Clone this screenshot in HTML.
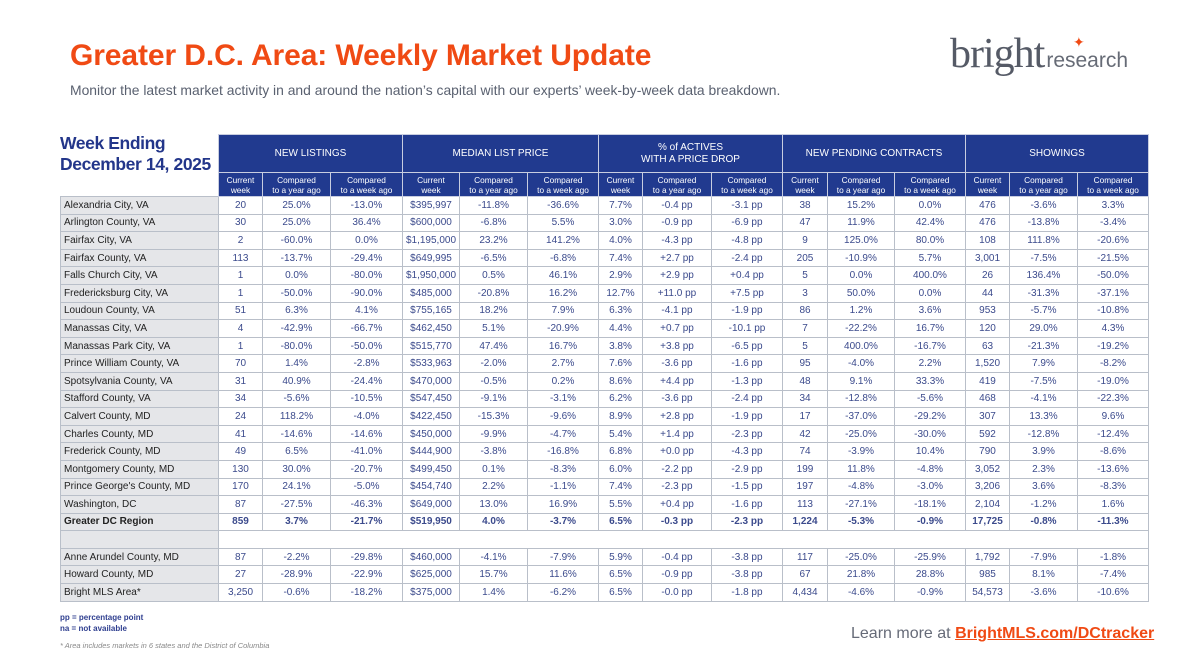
<!DOCTYPE html>
<html><head><meta charset="utf-8">
<style>
*{margin:0;padding:0;box-sizing:border-box}
body{width:1200px;height:672px;background:#fff;font-family:"Liberation Sans",sans-serif;position:relative;overflow:hidden}
.title{position:absolute;left:70px;top:39px;font-size:30px;font-weight:bold;color:#f04a14;letter-spacing:-0.1px;white-space:nowrap}
.sub{position:absolute;left:70px;top:82px;font-size:13.9px;color:#5a6170;white-space:nowrap}
.logo{position:absolute;left:950px;top:30px;white-space:nowrap;color:#555a66}
.logo .b{font-family:"Liberation Serif",serif;font-size:42px;letter-spacing:-1px}
.logo .r{font-size:21px;margin-left:2px;color:#666b76}
.logo .star{position:absolute;left:123px;top:4px;color:#f04a14;font-size:14px}
.we{position:absolute;left:60px;top:133px;font-size:17.5px;font-weight:bold;color:#23368a;line-height:21px;z-index:5;letter-spacing:-0.4px}
table{position:absolute;left:60px;top:134px;border-collapse:collapse;table-layout:fixed}
td{border:1px solid #b9bfc9;font-size:10px;color:#3b4a8c;text-align:center;height:17.6px;padding:0;white-space:nowrap;overflow:hidden}
td.l{background:#e5e6e9;color:#222;text-align:left;padding-left:3px}
tr.b td{font-weight:bold}
tr.b td.l{color:#222}
th{background:#213a8f;color:#fff;font-weight:normal;border:1px solid #c8cde0;font-size:10px;padding:0;line-height:12px}
th.g{height:38px}
th.s{height:24px;font-size:8.3px;line-height:10px}
td.e{border:none;background:transparent}
.foot1{position:absolute;left:60px;top:612px;font-size:8px;font-weight:bold;color:#2e3e8f;line-height:11px}
.foot2{position:absolute;left:60px;top:641px;font-size:7.5px;font-style:italic;color:#888}
.learn{position:absolute;left:851px;top:625px;font-size:16px;color:#666b78;white-space:nowrap}
.learn b{color:#f04a14;text-decoration:underline}
</style></head><body>
<div class="title">Greater D.C. Area: Weekly Market Update</div>
<div class="sub">Monitor the latest market activity in and around the nation’s capital with our experts’ week-by-week data breakdown.</div>
<div class="logo"><span class="b">bright</span><span class="r">research</span><span class="star">✦</span></div>
<table>
<colgroup><col style="width:158px"><col style="width:44px"><col style="width:68px"><col style="width:72px"><col style="width:57px"><col style="width:68px"><col style="width:71px"><col style="width:44px"><col style="width:69px"><col style="width:71px"><col style="width:45px"><col style="width:67px"><col style="width:71px"><col style="width:44px"><col style="width:68px"><col style="width:71px"></colgroup>
<tr><td class="e" rowspan="2"></td><th class="g" colspan="3">NEW LISTINGS</th><th class="g" colspan="3">MEDIAN LIST PRICE</th><th class="g" colspan="3">% of ACTIVES<br>WITH A PRICE DROP</th><th class="g" colspan="3">NEW PENDING CONTRACTS</th><th class="g" colspan="3">SHOWINGS</th></tr>
<tr>
<th class="s">Current<br>week</th><th class="s">Compared<br>to a year ago</th><th class="s">Compared<br>to a week ago</th>
<th class="s">Current<br>week</th><th class="s">Compared<br>to a year ago</th><th class="s">Compared<br>to a week ago</th>
<th class="s">Current<br>week</th><th class="s">Compared<br>to a year ago</th><th class="s">Compared<br>to a week ago</th>
<th class="s">Current<br>week</th><th class="s">Compared<br>to a year ago</th><th class="s">Compared<br>to a week ago</th>
<th class="s">Current<br>week</th><th class="s">Compared<br>to a year ago</th><th class="s">Compared<br>to a week ago</th></tr>
<tr><td class="l">Alexandria City, VA</td><td>20</td><td>25.0%</td><td>-13.0%</td><td>$395,997</td><td>-11.8%</td><td>-36.6%</td><td>7.7%</td><td>-0.4 pp</td><td>-3.1 pp</td><td>38</td><td>15.2%</td><td>0.0%</td><td>476</td><td>-3.6%</td><td>3.3%</td></tr>
<tr><td class="l">Arlington County, VA</td><td>30</td><td>25.0%</td><td>36.4%</td><td>$600,000</td><td>-6.8%</td><td>5.5%</td><td>3.0%</td><td>-0.9 pp</td><td>-6.9 pp</td><td>47</td><td>11.9%</td><td>42.4%</td><td>476</td><td>-13.8%</td><td>-3.4%</td></tr>
<tr><td class="l">Fairfax City, VA</td><td>2</td><td>-60.0%</td><td>0.0%</td><td>$1,195,000</td><td>23.2%</td><td>141.2%</td><td>4.0%</td><td>-4.3 pp</td><td>-4.8 pp</td><td>9</td><td>125.0%</td><td>80.0%</td><td>108</td><td>111.8%</td><td>-20.6%</td></tr>
<tr><td class="l">Fairfax County, VA</td><td>113</td><td>-13.7%</td><td>-29.4%</td><td>$649,995</td><td>-6.5%</td><td>-6.8%</td><td>7.4%</td><td>+2.7 pp</td><td>-2.4 pp</td><td>205</td><td>-10.9%</td><td>5.7%</td><td>3,001</td><td>-7.5%</td><td>-21.5%</td></tr>
<tr><td class="l">Falls Church City, VA</td><td>1</td><td>0.0%</td><td>-80.0%</td><td>$1,950,000</td><td>0.5%</td><td>46.1%</td><td>2.9%</td><td>+2.9 pp</td><td>+0.4 pp</td><td>5</td><td>0.0%</td><td>400.0%</td><td>26</td><td>136.4%</td><td>-50.0%</td></tr>
<tr><td class="l">Fredericksburg City, VA</td><td>1</td><td>-50.0%</td><td>-90.0%</td><td>$485,000</td><td>-20.8%</td><td>16.2%</td><td>12.7%</td><td>+11.0 pp</td><td>+7.5 pp</td><td>3</td><td>50.0%</td><td>0.0%</td><td>44</td><td>-31.3%</td><td>-37.1%</td></tr>
<tr><td class="l">Loudoun County, VA</td><td>51</td><td>6.3%</td><td>4.1%</td><td>$755,165</td><td>18.2%</td><td>7.9%</td><td>6.3%</td><td>-4.1 pp</td><td>-1.9 pp</td><td>86</td><td>1.2%</td><td>3.6%</td><td>953</td><td>-5.7%</td><td>-10.8%</td></tr>
<tr><td class="l">Manassas City, VA</td><td>4</td><td>-42.9%</td><td>-66.7%</td><td>$462,450</td><td>5.1%</td><td>-20.9%</td><td>4.4%</td><td>+0.7 pp</td><td>-10.1 pp</td><td>7</td><td>-22.2%</td><td>16.7%</td><td>120</td><td>29.0%</td><td>4.3%</td></tr>
<tr><td class="l">Manassas Park City, VA</td><td>1</td><td>-80.0%</td><td>-50.0%</td><td>$515,770</td><td>47.4%</td><td>16.7%</td><td>3.8%</td><td>+3.8 pp</td><td>-6.5 pp</td><td>5</td><td>400.0%</td><td>-16.7%</td><td>63</td><td>-21.3%</td><td>-19.2%</td></tr>
<tr><td class="l">Prince William County, VA</td><td>70</td><td>1.4%</td><td>-2.8%</td><td>$533,963</td><td>-2.0%</td><td>2.7%</td><td>7.6%</td><td>-3.6 pp</td><td>-1.6 pp</td><td>95</td><td>-4.0%</td><td>2.2%</td><td>1,520</td><td>7.9%</td><td>-8.2%</td></tr>
<tr><td class="l">Spotsylvania County, VA</td><td>31</td><td>40.9%</td><td>-24.4%</td><td>$470,000</td><td>-0.5%</td><td>0.2%</td><td>8.6%</td><td>+4.4 pp</td><td>-1.3 pp</td><td>48</td><td>9.1%</td><td>33.3%</td><td>419</td><td>-7.5%</td><td>-19.0%</td></tr>
<tr><td class="l">Stafford County, VA</td><td>34</td><td>-5.6%</td><td>-10.5%</td><td>$547,450</td><td>-9.1%</td><td>-3.1%</td><td>6.2%</td><td>-3.6 pp</td><td>-2.4 pp</td><td>34</td><td>-12.8%</td><td>-5.6%</td><td>468</td><td>-4.1%</td><td>-22.3%</td></tr>
<tr><td class="l">Calvert County, MD</td><td>24</td><td>118.2%</td><td>-4.0%</td><td>$422,450</td><td>-15.3%</td><td>-9.6%</td><td>8.9%</td><td>+2.8 pp</td><td>-1.9 pp</td><td>17</td><td>-37.0%</td><td>-29.2%</td><td>307</td><td>13.3%</td><td>9.6%</td></tr>
<tr><td class="l">Charles County, MD</td><td>41</td><td>-14.6%</td><td>-14.6%</td><td>$450,000</td><td>-9.9%</td><td>-4.7%</td><td>5.4%</td><td>+1.4 pp</td><td>-2.3 pp</td><td>42</td><td>-25.0%</td><td>-30.0%</td><td>592</td><td>-12.8%</td><td>-12.4%</td></tr>
<tr><td class="l">Frederick County, MD</td><td>49</td><td>6.5%</td><td>-41.0%</td><td>$444,900</td><td>-3.8%</td><td>-16.8%</td><td>6.8%</td><td>+0.0 pp</td><td>-4.3 pp</td><td>74</td><td>-3.9%</td><td>10.4%</td><td>790</td><td>3.9%</td><td>-8.6%</td></tr>
<tr><td class="l">Montgomery County, MD</td><td>130</td><td>30.0%</td><td>-20.7%</td><td>$499,450</td><td>0.1%</td><td>-8.3%</td><td>6.0%</td><td>-2.2 pp</td><td>-2.9 pp</td><td>199</td><td>11.8%</td><td>-4.8%</td><td>3,052</td><td>2.3%</td><td>-13.6%</td></tr>
<tr><td class="l">Prince George's County, MD</td><td>170</td><td>24.1%</td><td>-5.0%</td><td>$454,740</td><td>2.2%</td><td>-1.1%</td><td>7.4%</td><td>-2.3 pp</td><td>-1.5 pp</td><td>197</td><td>-4.8%</td><td>-3.0%</td><td>3,206</td><td>3.6%</td><td>-8.3%</td></tr>
<tr><td class="l">Washington, DC</td><td>87</td><td>-27.5%</td><td>-46.3%</td><td>$649,000</td><td>13.0%</td><td>16.9%</td><td>5.5%</td><td>+0.4 pp</td><td>-1.6 pp</td><td>113</td><td>-27.1%</td><td>-18.1%</td><td>2,104</td><td>-1.2%</td><td>1.6%</td></tr>
<tr class="b"><td class="l">Greater DC Region</td><td>859</td><td>3.7%</td><td>-21.7%</td><td>$519,950</td><td>4.0%</td><td>-3.7%</td><td>6.5%</td><td>-0.3 pp</td><td>-2.3 pp</td><td>1,224</td><td>-5.3%</td><td>-0.9%</td><td>17,725</td><td>-0.8%</td><td>-11.3%</td></tr>
<tr><td class="l"></td><td colspan="15"></td></tr>
<tr><td class="l">Anne Arundel County, MD</td><td>87</td><td>-2.2%</td><td>-29.8%</td><td>$460,000</td><td>-4.1%</td><td>-7.9%</td><td>5.9%</td><td>-0.4 pp</td><td>-3.8 pp</td><td>117</td><td>-25.0%</td><td>-25.9%</td><td>1,792</td><td>-7.9%</td><td>-1.8%</td></tr>
<tr><td class="l">Howard County, MD</td><td>27</td><td>-28.9%</td><td>-22.9%</td><td>$625,000</td><td>15.7%</td><td>11.6%</td><td>6.5%</td><td>-0.9 pp</td><td>-3.8 pp</td><td>67</td><td>21.8%</td><td>28.8%</td><td>985</td><td>8.1%</td><td>-7.4%</td></tr>
<tr><td class="l">Bright MLS Area*</td><td>3,250</td><td>-0.6%</td><td>-18.2%</td><td>$375,000</td><td>1.4%</td><td>-6.2%</td><td>6.5%</td><td>-0.0 pp</td><td>-1.8 pp</td><td>4,434</td><td>-4.6%</td><td>-0.9%</td><td>54,573</td><td>-3.6%</td><td>-10.6%</td></tr>
</table>
<div class="we">Week Ending<br>December 14, 2025</div>
<div class="foot1">pp = percentage point<br>na = not available</div>
<div class="foot2">* Area includes markets in 6 states and the District of Columbia</div>
<div class="learn">Learn more at <b>BrightMLS.com/DCtracker</b></div>
</body></html>
